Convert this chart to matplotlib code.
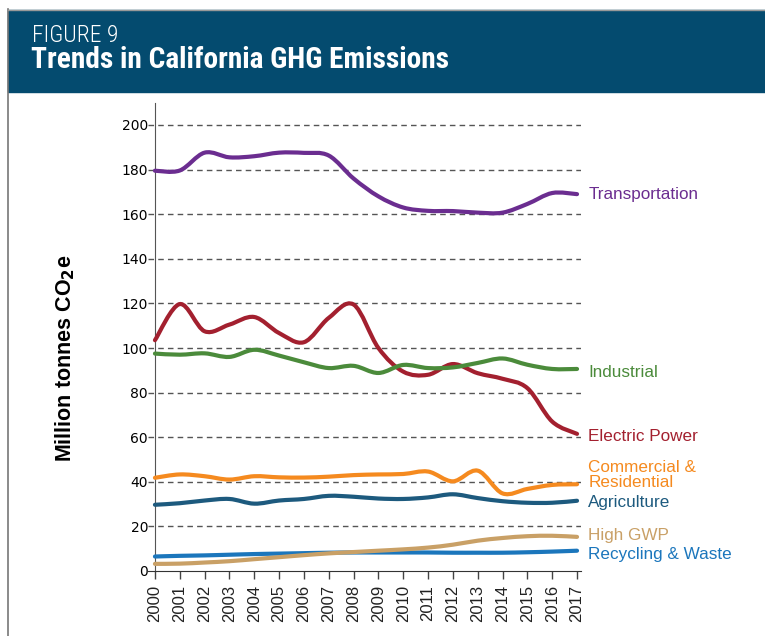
import matplotlib
matplotlib.use("Agg")
import matplotlib.pyplot as plt
import matplotlib.patches as patches
from matplotlib.path import Path

# Data (million tonnes CO2e)
years = list(range(2000, 2018))
transportation = [179.5, 179.6, 187.6, 185.5, 186.0, 187.6, 187.5, 186.3, 176.0, 168.0,
                  163.0, 161.5, 161.4, 160.7, 160.7, 164.6, 169.5, 169.0]
electric_power = [103.5, 119.7, 107.5, 110.5, 113.9, 106.7, 102.6, 113.5, 119.5, 100.0,
                  89.4, 88.0, 92.8, 88.7, 86.2, 82.0, 67.0, 61.5]
industrial = [97.5, 97.0, 97.6, 96.0, 99.2, 96.6, 93.6, 91.0, 92.0, 88.8,
              92.4, 91.0, 91.3, 93.3, 95.3, 92.5, 90.6, 90.6]
commercial_residential = [41.8, 43.3, 42.5, 41.0, 42.5, 42.0, 41.9, 42.3, 43.0, 43.3,
                          43.5, 44.6, 40.2, 45.0, 34.8, 36.8, 38.6, 38.9]
agriculture = [29.7, 30.4, 31.6, 32.3, 30.2, 31.6, 32.3, 33.7, 33.3, 32.5,
               32.3, 33.0, 34.4, 32.7, 31.3, 30.6, 30.6, 31.5]
high_gwp = [3.2, 3.3, 3.8, 4.4, 5.3, 6.2, 7.1, 7.9, 8.5, 9.1,
            9.7, 10.5, 11.8, 13.6, 14.8, 15.6, 15.8, 15.3]
recycling_waste = [6.5, 6.8, 7.0, 7.3, 7.6, 7.8, 8.0, 8.2, 8.3, 8.3,
                   8.3, 8.3, 8.2, 8.2, 8.2, 8.4, 8.7, 9.1]

series = [
    ("Recycling & Waste", recycling_waste, "#1b76bc", 7.3),
    ("High GWP", high_gwp, "#c9a066", 16.0),
    ("Agriculture", agriculture, "#1d5a7e", 30.5),
    ("Commercial &\nResidential", commercial_residential, "#f58a1f", 43.0),
    ("Electric Power", electric_power, "#a3202f", 60.3),
    ("Industrial", industrial, "#4b8b3b", 89.0),
    ("Transportation", transportation, "#6b2d90", 169.0),
]

label_font = ["Liberation Sans", "DejaVu Sans"]
narrow_font = ["Roboto Condensed", "DejaVu Sans Condensed", "Liberation Sans Narrow",
               "DejaVu Sans"]


def smooth_path(xs, ys, t=1 / 6):
    # Catmull-Rom through the data points, as cubic Bezier segments
    n = len(xs)
    verts = [(xs[0], ys[0])]
    codes = [Path.MOVETO]
    for i in range(n - 1):
        a = max(i - 1, 0)
        b = min(i + 2, n - 1)
        c1 = (xs[i] + (xs[i + 1] - xs[a]) * t, ys[i] + (ys[i + 1] - ys[a]) * t)
        c2 = (xs[i + 1] - (xs[b] - xs[i]) * t, ys[i + 1] - (ys[b] - ys[i]) * t)
        verts += [c1, c2, (xs[i + 1], ys[i + 1])]
        codes += [Path.CURVE4] * 3
    return Path(verts, codes)


fig = plt.figure(figsize=(7.65, 6.36), dpi=100)

# header band and frame
W, H = 765, 636
fig.patches.append(patches.Rectangle((8 / W, (H - 92) / H), 1, 82 / H,
                                     transform=fig.transFigure, color="#044b6f", zorder=0))
fig.add_artist(plt.Line2D([7.5 / W, 7.5 / W], [0, (H - 9) / H], transform=fig.transFigure,
                          color="#777777", lw=1.2))
fig.add_artist(plt.Line2D([7.5 / W, 1], [(H - 9.5) / H, (H - 9.5) / H], transform=fig.transFigure,
                          color="#999999", lw=1.0))
fig.text(32 / W, (H - 42) / H, "FIGURE 9", color="white", fontsize=17, fontweight="light",
         fontstretch="condensed", family=narrow_font, ha="left", va="baseline")
fig.text(31 / W, (H - 68) / H, "Trends in California GHG Emissions", color="white",
         fontsize=21.2, fontweight="bold", fontstretch="condensed",
         family=narrow_font, ha="left", va="baseline")

ax = fig.add_axes([148 / W, (H - 571) / H, (581 - 148) / W, (571 - 102.7) / H])

for name, vals, color, ylab in series:
    ax.add_patch(patches.PathPatch(smooth_path(years, vals), fill=False, edgecolor=color,
                                   lw=3, capstyle="round", joinstyle="round", zorder=3))
    ax.text(2017.45, ylab, name, color=color, fontsize=12.3, family=label_font,
            ha="left", va="center", linespacing=1.0, clip_on=False)

ax.set_xlim(1999.72, 2017.16)
ax.set_ylim(0, 210)

ax.set_yticks(range(0, 201, 20))
ax.set_yticklabels([str(v) for v in range(0, 201, 20)], family=label_font, fontsize=12,
                   color="#222222")
ax.set_xticks(years)
ax.set_xticklabels([str(y) for y in years], rotation=90, family=label_font, fontsize=12,
                   color="#222222")
ax.tick_params(axis="y", length=0, pad=5)
ax.tick_params(axis="x", length=6, width=1, color="#444444", pad=4)

for v in range(20, 201, 20):
    ax.axhline(v, color="#555555", lw=1, ls=(0, (4, 3)), zorder=1)

for s in ["top", "right"]:
    ax.spines[s].set_visible(False)
ax.spines["left"].set_position(("data", 2000))
ax.spines["left"].set_color("#555555")
ax.spines["bottom"].set_color("#333333")

ax.set_ylabel(r"Million tonnes CO$_\mathbf{2}$e", fontsize=15.5, fontweight="bold",
              family=label_font)
ax.yaxis.set_label_coords(-0.163, 0.453)

fig.savefig("out.png", dpi=100)
